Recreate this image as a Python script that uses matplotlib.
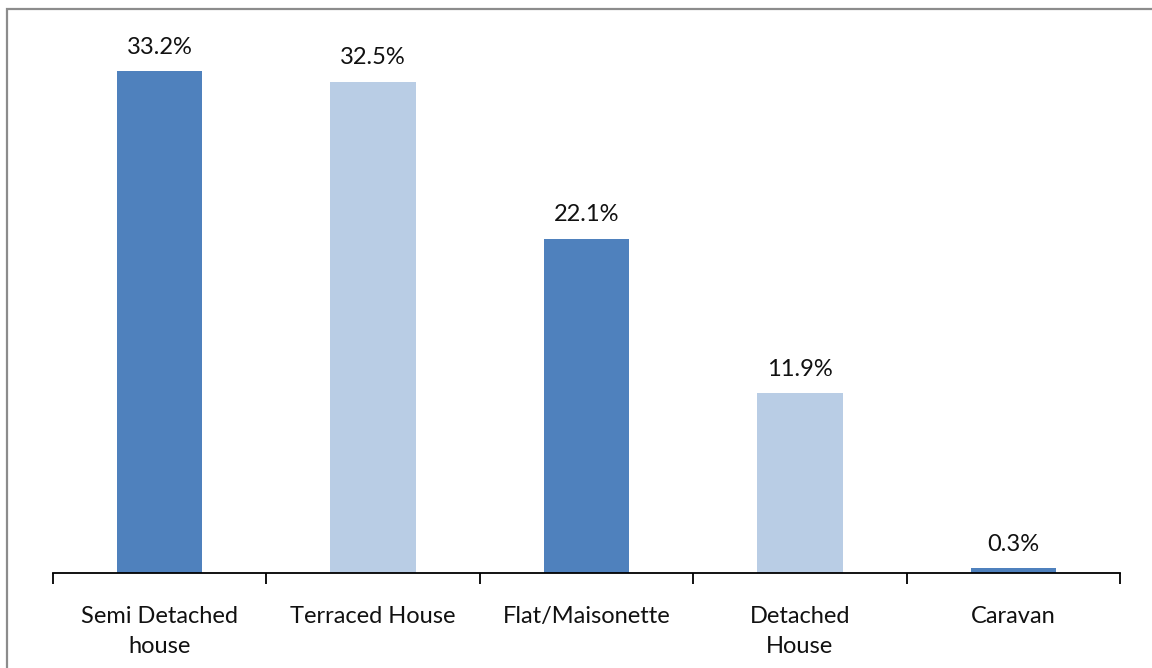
import matplotlib.pyplot as plt
from matplotlib.patches import Rectangle

plt.rcParams['font.family'] = ['Lato', 'DejaVu Sans']

categories = ['Semi Detached\nhouse', 'Terraced House', 'Flat/Maisonette', 'Detached\nHouse', 'Caravan']
shares = [33.2, 32.5, 22.1, 11.9, 0.3]
bar_colors = ['#4F81BD', '#B9CDE5', '#4F81BD', '#B9CDE5', '#4F81BD']

W, H = 1152, 668
fig = plt.figure(figsize=(W / 100, H / 100), dpi=100)

# plot area in pixels: x axis runs 53..1120 at y=573
left, right, base, top = 53, 1120, 573, 44
ax = fig.add_axes([left / W, 1 - base / H, (right - left) / W, (base - top) / H])

x = range(len(categories))
ax.bar(x, shares, width=0.4, color=bar_colors, zorder=2)
ax.set_xlim(-0.5, len(categories) - 0.5)
ax.set_ylim(0, 35)

for xi, v in zip(x, shares):
    ax.text(xi, v + 0.9, f'{v}%', ha='center', va='bottom', fontsize=17,
            color='#111111', clip_on=False)

for side in ['top', 'right', 'left']:
    ax.spines[side].set_visible(False)
ax.spines['bottom'].set_linewidth(1.3)
ax.set_yticks([])

# tick marks sit between categories
ax.set_xticks([i - 0.5 for i in range(len(categories) + 1)], minor=False)
ax.set_xticklabels([])
ax.tick_params(axis='x', direction='out', length=8, width=1.3)
for xi, lab in zip(x, categories):
    ax.text(xi, -2.2, lab, ha='center', va='top', fontsize=17,
            color='#111111', linespacing=1.5, clip_on=False)

# chart border (only top and left edges fall inside the image)
fig.patches.append(Rectangle((6.5 / W, -0.1), 1.2, 1.1 - 9.5 / H,
                             transform=fig.transFigure, fill=False,
                             edgecolor='#8C8C8C', linewidth=1.6))

fig.savefig('out.png', dpi=100, facecolor='white')
